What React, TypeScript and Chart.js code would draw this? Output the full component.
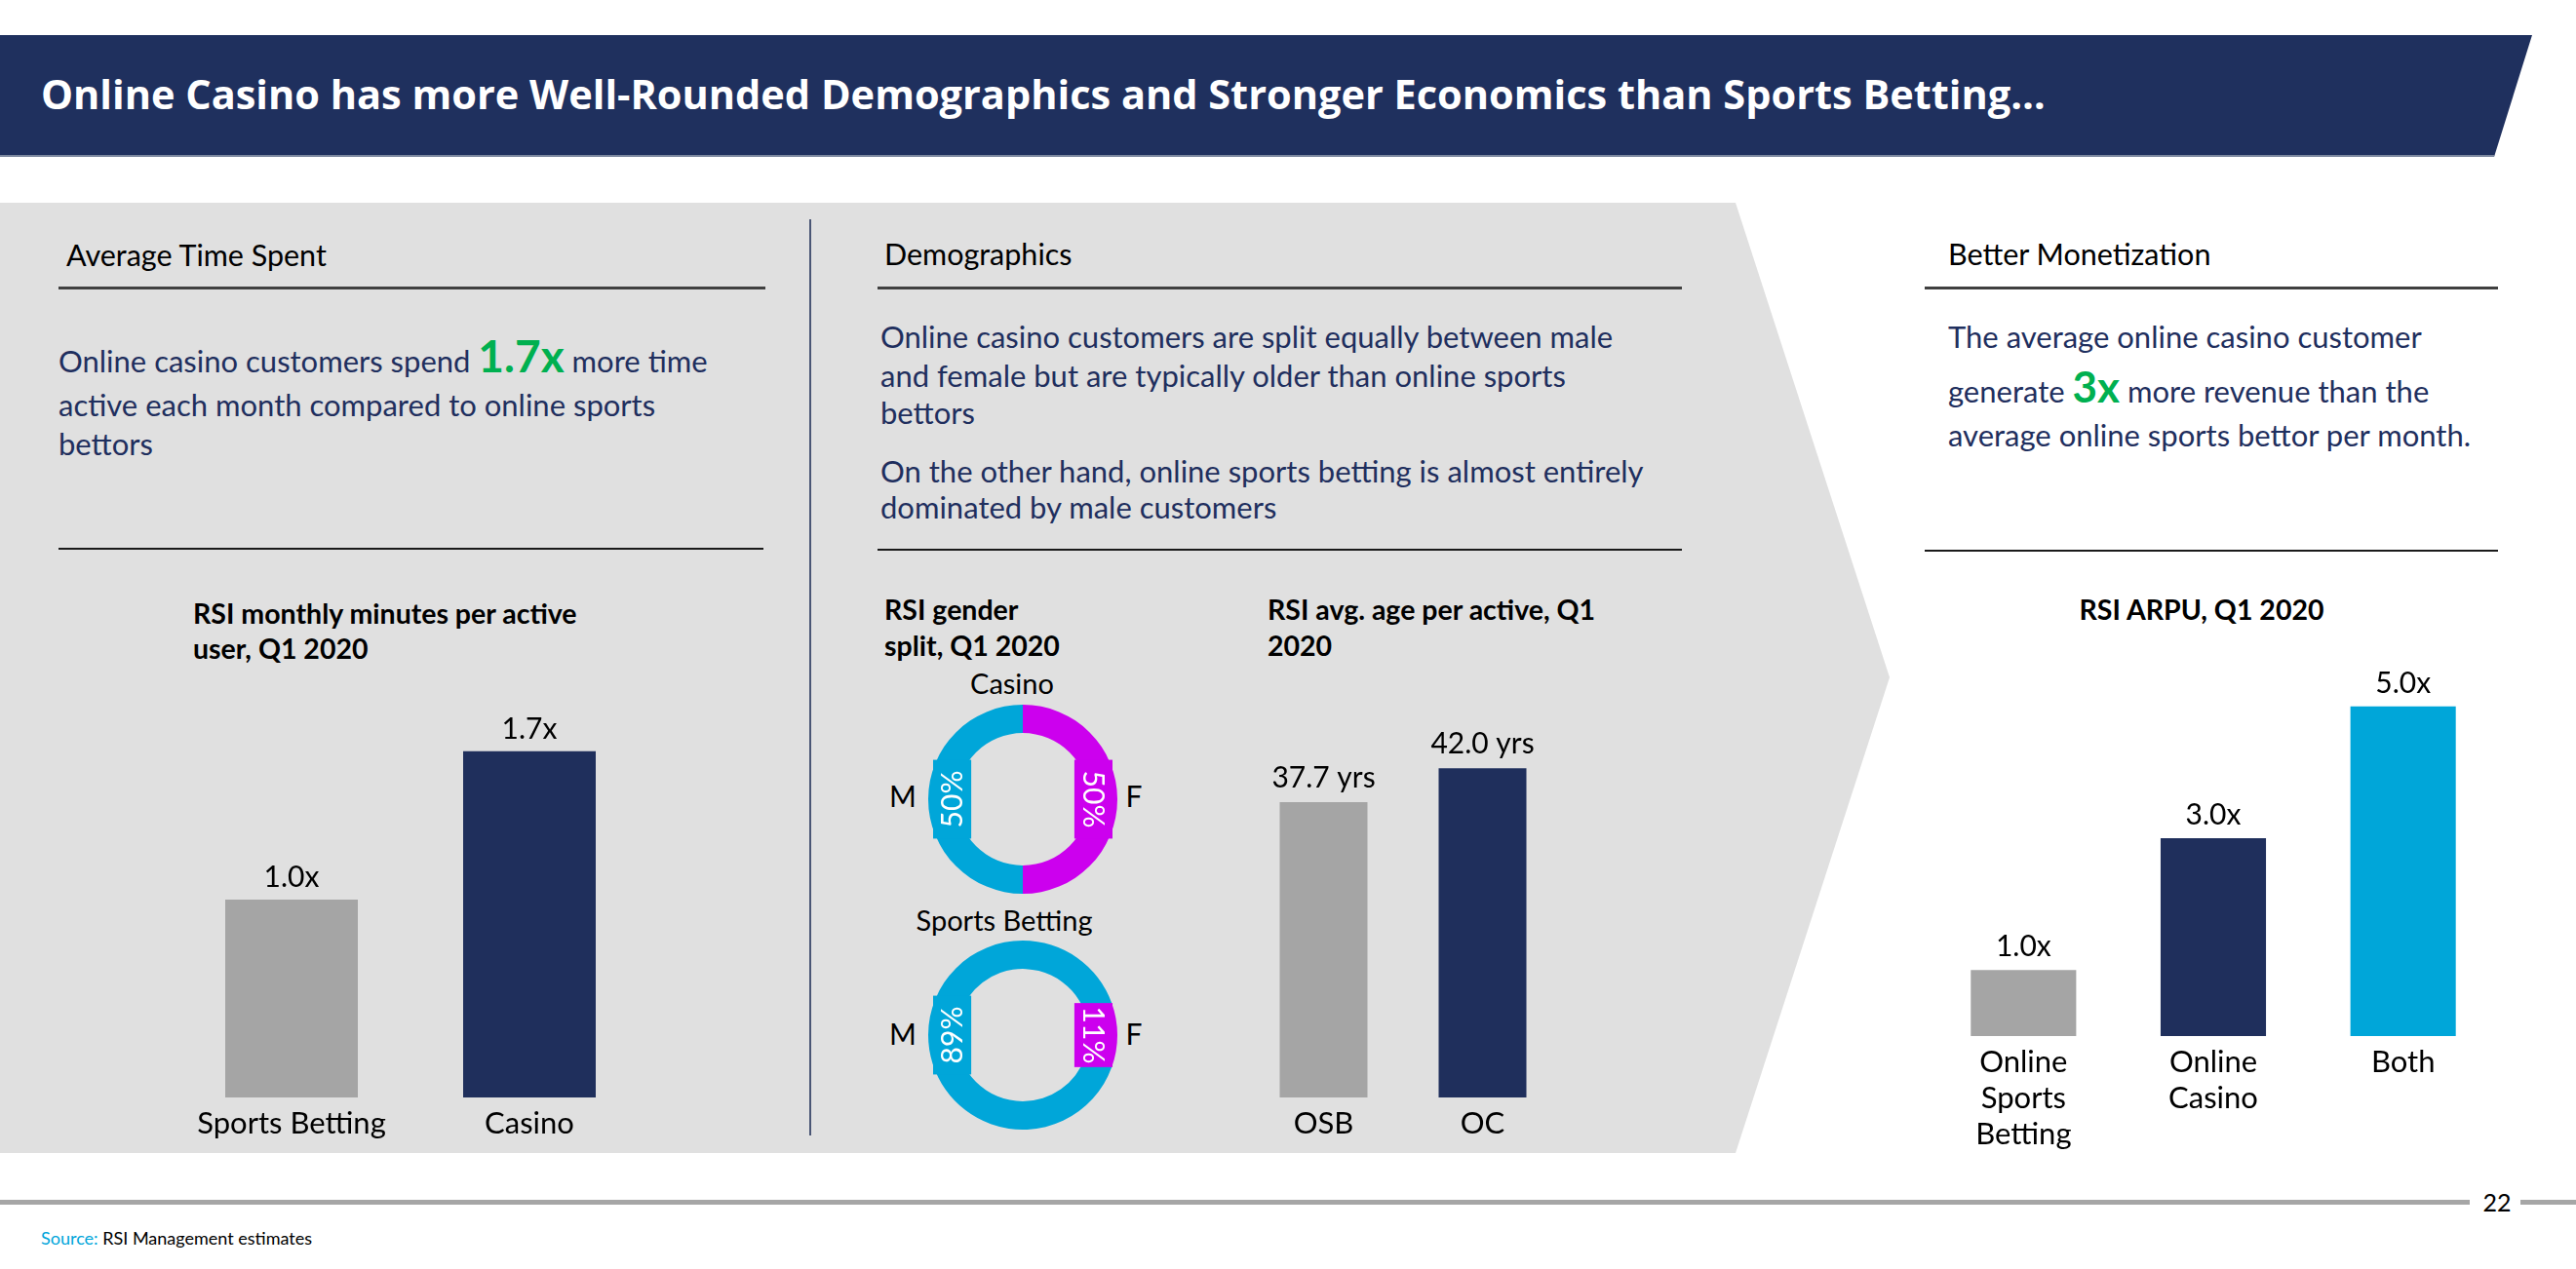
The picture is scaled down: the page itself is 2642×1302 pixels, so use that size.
import React, { useEffect, useRef } from "react";
import { Chart, registerables } from "chart.js";

Chart.register(...registerables);

// ---------- data ----------
const timeCategories = [["Sports Betting"], ["Casino"]];
const timeValues = [1.0, 1.75];
const timeValueLabels = ["1.0x", "1.7x"];

const ageCategories = [["OSB"], ["OC"]];
const ageValues = [37.7, 42.0];
const ageValueLabels = ["37.7 yrs", "42.0 yrs"];

const arpuCategories = [["Online", "Sports", "Betting"], ["Online", "Casino"], ["Both"]];
const arpuValues = [1.0, 3.0, 5.0];
const arpuValueLabels = ["1.0x", "3.0x", "5.0x"];

const genderLabels = ["M", "F"];
const casinoGender = [50, 50];
const sportsGender = [89, 11];

// ---------- styles ----------
const NAVY = "#1F2F5C";
const BANNER = "#1F305E";
const GRAY = "#A5A5A5";
const CYAN = "#00A6D9";
const MAGENTA = "#CC00EE";
const PANEL = "#E0E0E0";
const TEXT_NAVY = "#1F2F5E";
const GREEN = "#00B050";
const FONT = "Lato";
const BODY = 31;

const T = ({ x, y, size, weight = 400, color = "#000", align = "left", family = FONT, children }: any) => {
  const top = y - size * 0.887;
  const style: any = {
    position: "absolute",
    top,
    fontFamily: family,
    fontSize: size,
    fontWeight: weight,
    color,
    lineHeight: `${size}px`,
    whiteSpace: "nowrap",
  };
  if (align === "center") {
    style.left = x - 1000;
    style.width = 2000;
    style.textAlign = "center";
  } else {
    style.left = x;
  }
  return <div style={style}>{children}</div>;
};

const Big = ({ size, children }: any) => (
  <span style={{ fontSize: size, fontWeight: 700, color: GREEN, lineHeight: 0 }}>{children}</span>
);

const Rect = ({ x, y, w, h, c }: any) => (
  <div style={{ position: "absolute", left: x, top: y, width: w, height: h, background: c }} />
);

function BarChart(props: any) {
  const ref = useRef<HTMLCanvasElement>(null);
  const { left, top, width, height, padTop, padBottom, categories, values, valueLabels, colors, yMax, barPct, gap, catFirst, catLH } = props;
  useEffect(() => {
    const labelPlugin = {
      id: "barLabels",
      afterDatasetsDraw(chart: any) {
        const ctx = chart.ctx;
        const meta = chart.getDatasetMeta(0);
        const xScale = chart.scales.x;
        ctx.save();
        ctx.fillStyle = "#000";
        ctx.textAlign = "center";
        ctx.textBaseline = "alphabetic";
        meta.data.forEach((bar: any, i: number) => {
          const p = bar.getProps(["x", "y"], true);
          ctx.font = `400 30px ${FONT}`;
          ctx.fillText(valueLabels[i], p.x, p.y - gap);
          ctx.font = `400 31px ${FONT}`;
          const cx = xScale.getPixelForValue(i);
          (chart.data.labels[i] as string[]).forEach((line: string, j: number) => {
            ctx.fillText(line, cx, chart.chartArea.bottom + catFirst + j * catLH);
          });
        });
        ctx.restore();
      },
    };
    const chart = new Chart(ref.current!, {
      type: "bar",
      data: {
        labels: categories,
        datasets: [
          {
            data: values,
            backgroundColor: colors,
            borderWidth: 0,
            categoryPercentage: 1,
            barPercentage: barPct,
          },
        ],
      },
      options: {
        responsive: false,
        maintainAspectRatio: false,
        animation: false,
        devicePixelRatio: 1,
        layout: { padding: { top: padTop, bottom: padBottom, left: 0, right: 0 } },
        plugins: { legend: { display: false }, tooltip: { enabled: false } },
        scales: {
          x: { display: false },
          y: { display: false, min: 0, max: yMax },
        },
      },
      plugins: [labelPlugin],
    });
    return () => chart.destroy();
  }, []);
  return (
    <canvas
      ref={ref}
      width={width}
      height={height}
      style={{ position: "absolute", left, top, width, height }}
    />
  );
}

function Donut(props: any) {
  const ref = useRef<HTMLCanvasElement>(null);
  const { left, top, size, values } = props;
  const colors = [CYAN, MAGENTA];
  useEffect(() => {
    const fDeg = (values[1] / 100) * 360;
    const donutLabelPlugin = {
      id: "donutLabels",
      afterDatasetsDraw(chart: any) {
        const ctx = chart.ctx;
        const meta = chart.getDatasetMeta(0);
        meta.data.forEach((arc: any, i: number) => {
          const p = arc.getProps(["x", "y", "startAngle", "endAngle", "innerRadius", "outerRadius"], true);
          const mid = (p.startAngle + p.endAngle) / 2;
          const rIn = p.innerRadius - 15;
          const rOut = p.outerRadius - 5;
          const rc = (rIn + rOut) / 2;
          const h = rOut - rIn;
          ctx.save();
          ctx.font = `400 30px ${FONT}`;
          const text = `${chart.data.datasets[0].data[i]}%`;
          const tw = ctx.measureText(text).width;
          const half = Math.min((p.endAngle - p.startAngle) / 2, Math.PI / 2);
          const len = Math.min(tw + 22, 2 * p.outerRadius * Math.sin(half));
          ctx.translate(p.x + rc * Math.cos(mid), p.y + rc * Math.sin(mid));
          ctx.rotate(mid + Math.PI / 2);
          ctx.fillStyle = colors[i];
          ctx.fillRect(-len / 2, -h / 2, len, h);
          ctx.fillStyle = "#FFFFFF";
          ctx.textAlign = "center";
          ctx.textBaseline = "middle";
          ctx.fillText(text, 0, 1);
          ctx.restore();
        });
      },
    };
    const chart = new Chart(ref.current!, {
      type: "doughnut",
      data: {
        labels: genderLabels,
        datasets: [{ data: values, backgroundColor: colors, borderWidth: 0 }],
      },
      options: {
        responsive: false,
        maintainAspectRatio: false,
        animation: false,
        devicePixelRatio: 1,
        cutout: "70%",
        rotation: 90 + fDeg / 2,
        layout: { padding: 0 },
        plugins: { legend: { display: false }, tooltip: { enabled: false } },
      },
      plugins: [donutLabelPlugin],
    });
    return () => chart.destroy();
  }, []);
  return (
    <canvas
      ref={ref}
      width={size}
      height={size}
      style={{ position: "absolute", left, top, width: size, height: size }}
    />
  );
}

export default function App() {
  return (
    <div
      style={{
        position: "absolute",
        left: 0,
        top: 0,
        width: 2642,
        height: 1302,
        background: "#FFFFFF",
        overflow: "hidden",
        fontFamily: FONT,
      }}
    >
      {/* banner */}
      <div
        style={{
          position: "absolute",
          left: 0,
          top: 36,
          width: 2597,
          height: 125,
          background: BANNER,
          clipPath: "polygon(0 0, 2597px 0, 2558px 125px, 0 125px)",
        }}
      />
      <Rect x={0} y={159} w={2558} h={2} c="#7C889F" />
      <T x={42} y={113} size={41.5} weight={700} color="#FFFFFF" family="'Open Sans'">
        Online Casino has more Well-Rounded Demographics and Stronger Economics than Sports Betting…
      </T>

      {/* grey chevron panel */}
      <div
        style={{
          position: "absolute",
          left: 0,
          top: 208,
          width: 1938,
          height: 975,
          background: PANEL,
          clipPath: "polygon(0 0, 1780px 0, 1938px 487px, 1780px 975px, 0 975px)",
        }}
      />
      <Rect x={830} y={225} w={2} h={940} c="#4A5675" />

      {/* section headers */}
      <T x={68} y={273} size={30.5}>Average Time Spent</T>
      <T x={907} y={272} size={30.5}>Demographics</T>
      <T x={1998} y={272} size={30.5}>Better Monetization</T>
      <Rect x={60} y={294} w={725} h={3} c="#404040" />
      <Rect x={900} y={294} w={825} h={3} c="#404040" />
      <Rect x={1974} y={294} w={588} h={3} c="#404040" />
      <Rect x={60} y={562} w={723} h={2} c="#1A1A1A" />
      <Rect x={900} y={563} w={825} h={2} c="#1A1A1A" />
      <Rect x={1974} y={564} w={588} h={2} c="#1A1A1A" />

      {/* left body text */}
      <T x={60} y={382} size={BODY} color={TEXT_NAVY}>
        Online casino customers spend <Big size={46}>1.7x</Big> more time
      </T>
      <T x={60} y={427} size={BODY} color={TEXT_NAVY}>active each month compared to online sports</T>
      <T x={60} y={467} size={BODY} color={TEXT_NAVY}>bettors</T>

      {/* middle body text */}
      <T x={903} y={357} size={BODY} color={TEXT_NAVY}>Online casino customers are split equally between male</T>
      <T x={903} y={397} size={BODY} color={TEXT_NAVY}>and female but are typically older than online sports</T>
      <T x={903} y={435} size={BODY} color={TEXT_NAVY}>bettors</T>
      <T x={903} y={495} size={BODY} color={TEXT_NAVY}>On the other hand, online sports betting is almost entirely</T>
      <T x={903} y={532} size={BODY} color={TEXT_NAVY}>dominated by male customers</T>

      {/* right body text */}
      <T x={1998} y={357} size={BODY} color={TEXT_NAVY}>The average online casino customer</T>
      <T x={1998} y={413} size={BODY} color={TEXT_NAVY}>
        generate <Big size={44}>3x</Big> more revenue than the
      </T>
      <T x={1998} y={458} size={BODY} color={TEXT_NAVY}>average online sports bettor per month.</T>

      {/* chart titles */}
      <T x={198} y={640} size={28.5} weight={700}>RSI monthly minutes per active</T>
      <T x={198} y={676} size={28.5} weight={700}>user, Q1 2020</T>
      <T x={907} y={636} size={28.5} weight={700}>RSI gender</T>
      <T x={907} y={673} size={28.5} weight={700}>split, Q1 2020</T>
      <T x={1300} y={636} size={28.5} weight={700}>RSI avg. age per active, Q1</T>
      <T x={1300} y={673} size={28.5} weight={700}>2020</T>
      <T x={2258} y={636} size={28.5} weight={700} align="center">RSI ARPU, Q1 2020</T>

      {/* donut captions */}
      <T x={1038} y={712} size={29} align="center">Casino</T>
      <T x={926} y={828} size={30} align="center">M</T>
      <T x={1163} y={828} size={30} align="center">F</T>
      <T x={1030} y={955} size={29} align="center">Sports Betting</T>
      <T x={926} y={1072} size={30} align="center">M</T>
      <T x={1163} y={1072} size={30} align="center">F</T>

      {/* charts */}
      <BarChart
        left={177}
        top={700}
        width={488}
        height={500}
        padTop={20}
        padBottom={74}
        categories={timeCategories}
        values={timeValues}
        valueLabels={timeValueLabels}
        colors={[GRAY, NAVY]}
        yMax={2}
        barPct={136 / 244}
        gap={13}
        catFirst={37}
        catLH={37}
      />
      <BarChart
        left={1276}
        top={700}
        width={326}
        height={500}
        padTop={24}
        padBottom={74}
        categories={ageCategories}
        values={ageValues}
        valueLabels={ageValueLabels}
        colors={[GRAY, NAVY]}
        yMax={50}
        barPct={90 / 163}
        gap={15}
        catFirst={37}
        catLH={37}
      />
      <BarChart
        left={1978}
        top={640}
        width={584}
        height={560}
        padTop={17}
        padBottom={137}
        categories={arpuCategories}
        values={arpuValues}
        valueLabels={arpuValueLabels}
        colors={[GRAY, NAVY, CYAN]}
        yMax={6}
        barPct={108 / 194.5}
        gap={14}
        catFirst={37}
        catLH={37}
      />
      <Donut left={952} top={723} size={194} values={casinoGender} />
      <Donut left={952} top={965} size={194} values={sportsGender} />

      {/* footer */}
      <Rect x={0} y={1231} w={2533} h={5} c="#A6A6A6" />
      <Rect x={2585} y={1231} w={57} h={5} c="#A6A6A6" />
      <T x={2561} y={1243} size={25} align="center">22</T>
      <T x={42} y={1277} size={18}>
        <span style={{ color: "#00A5DA" }}>Source:</span> RSI Management estimates
      </T>
    </div>
  );
}
